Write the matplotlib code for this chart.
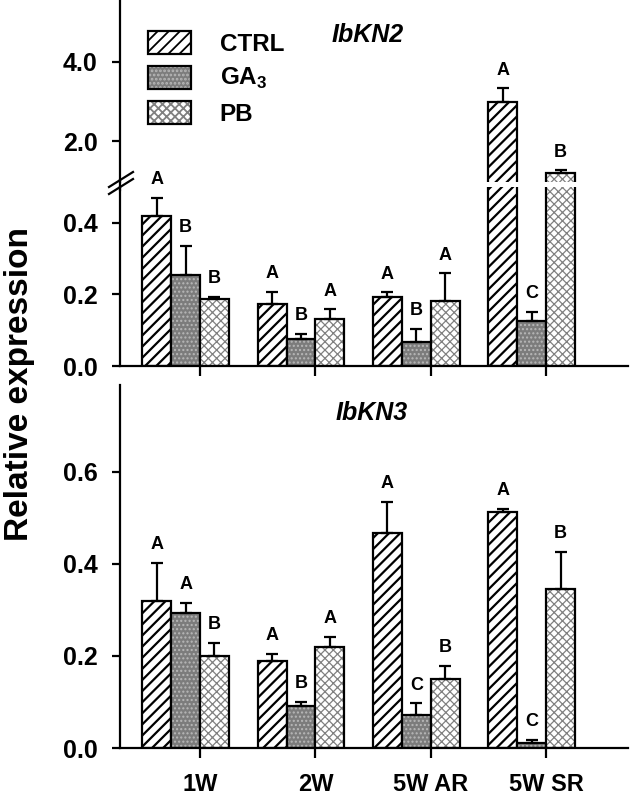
import matplotlib
matplotlib.use("Agg")
import matplotlib.pyplot as plt
import numpy as np
from matplotlib.lines import Line2D

plt.rcParams['font.family'] = 'Liberation Sans'
plt.rcParams['font.weight'] = 'bold'
plt.rcParams['mathtext.fontset'] = 'custom'
plt.rcParams['mathtext.rm'] = 'Liberation Sans:bold'
plt.rcParams['mathtext.bf'] = 'Liberation Sans:bold'
plt.rcParams['hatch.linewidth'] = 1.3
plt.rcParams['axes.linewidth'] = 1.6

stages = ["1W", "2W", "5W AR", "5W SR"]
treatments = ["CTRL", "GA$_3$", "PB"]

# IbKN2 (top panel)
kn2_ctrl = [0.42, 0.172, 0.192, 2.99]
kn2_ctrl_err = [0.05, 0.036, 0.014, 0.34]
kn2_ga3 = [0.254, 0.076, 0.067, 0.125]
kn2_ga3_err = [0.082, 0.013, 0.036, 0.026]
kn2_pb = [0.186, 0.13, 0.181, 1.19]
kn2_pb_err = [0.007, 0.028, 0.078, 0.07]
kn2_letters = [["A", "A", "A", "A"], ["B", "B", "B", "C"], ["B", "A", "A", "B"]]

# IbKN3 (bottom panel)
kn3_ctrl = [0.32, 0.19, 0.468, 0.512]
kn3_ctrl_err = [0.083, 0.014, 0.067, 0.007]
kn3_ga3 = [0.293, 0.092, 0.072, 0.01]
kn3_ga3_err = [0.023, 0.008, 0.025, 0.007]
kn3_pb = [0.2, 0.22, 0.15, 0.346]
kn3_pb_err = [0.028, 0.022, 0.029, 0.081]
kn3_letters = [["A", "A", "A", "A"], ["A", "B", "C", "C"], ["B", "A", "B", "B"]]

# looks of each treatment: face colour, hatch, hatch colour, hatch line width
styles = [("white", "///", "black", 1.6),
          ("#7c7c7c", "....", "#b8b8b8", 1.0),
          ("white", "xxxx", "#808080", 0.9)]
offsets = [-0.375, -0.125, 0.125]
width = 0.25


def draw_bars(ax, series, errors):
    """draws the three treatments as hatched bars with upward error bars"""
    x = np.arange(len(stages))
    handles = []
    for j in range(3):
        face, hatch, hcol, hlw = styles[j]
        pos = x + offsets[j]
        b1 = ax.bar(pos, series[j], width, color=face, edgecolor=hcol, hatch=hatch, linewidth=0)
        for p in b1:
            if hasattr(p, "set_hatch_linewidth"):
                p.set_hatch_linewidth(hlw)
        b2 = ax.bar(pos, series[j], width, fill=False, edgecolor="black", linewidth=1.6)
        ax.errorbar(pos, series[j], yerr=[np.zeros(len(pos)), errors[j]], fmt="none",
                    ecolor="black", elinewidth=1.6, capsize=4, capthick=1.6)
        handles.append((b1[0], b2[0]))
    return handles


def add_letters(axes_for, series, errors, letters):
    """puts the significance letters above each error bar"""
    for j in range(3):
        for i in range(len(stages)):
            top = series[j][i] + errors[j][i]
            ax = axes_for(top)
            ax.annotate(letters[j][i], (i + offsets[j], top), xytext=(0, 7),
                        textcoords="offset points", ha="center", va="bottom",
                        fontsize=13, fontweight="bold")


fig = plt.figure(figsize=(6.3, 7.99), dpi=100)
W, H = 630.0, 799.0
left = 120 / W
wid = 508 / W

ax_up = fig.add_axes([left, 1 - 182 / H, wid, 182 / H])
ax_lo = fig.add_axes([left, 1 - 366 / H, wid, 179 / H])
ax3 = fig.add_axes([left, 1 - 748 / H, wid, 363 / H])

kn2_series = [kn2_ctrl, kn2_ga3, kn2_pb]
kn2_errors = [kn2_ctrl_err, kn2_ga3_err, kn2_pb_err]
kn3_series = [kn3_ctrl, kn3_ga3, kn3_pb]
kn3_errors = [kn3_ctrl_err, kn3_ga3_err, kn3_pb_err]

handles = draw_bars(ax_up, kn2_series, kn2_errors)
draw_bars(ax_lo, kn2_series, kn2_errors)
draw_bars(ax3, kn3_series, kn3_errors)

add_letters(lambda t: ax_up if t > 0.5 else ax_lo, kn2_series, kn2_errors, kn2_letters)
add_letters(lambda t: ax3, kn3_series, kn3_errors, kn3_letters)

for ax in [ax_up, ax_lo, ax3]:
    ax.set_xlim(-0.694, 3.71)
    ax.spines["top"].set_visible(False)
    ax.spines["right"].set_visible(False)
    ax.tick_params(axis="y", direction="out", length=6, width=1.6, pad=10, labelsize=18)
    ax.tick_params(axis="x", direction="out", length=7, width=1.6, pad=11, labelsize=17)
    ax.patch.set_alpha(0)

ax_up.set_ylim(0.965, 5.56)
ax_up.set_yticks([2.0, 4.0])
ax_up.set_yticklabels(["2.0", "4.0"])
ax_up.spines["bottom"].set_visible(False)
ax_up.set_xticks([])

ax_lo.set_ylim(0, 0.5)
ax_lo.set_yticks([0.0, 0.2, 0.4])
ax_lo.set_yticklabels(["0.0", "0.2", "0.4"])
ax_lo.set_xticks(range(len(stages)))
ax_lo.set_xticklabels([])

ax3.set_ylim(0, 0.789)
ax3.set_yticks([0.0, 0.2, 0.4, 0.6])
ax3.set_yticklabels(["0.0", "0.2", "0.4", "0.6"])
ax3.set_xticks(range(len(stages)))
ax3.set_xticklabels(stages)

# axis break marks and the bit of spine between the two top axes
fig.add_artist(Line2D([120 / W, 120 / W], [1 - 180 / H, 1 - 190 / H], color="black", lw=1.6))
for y0 in [187, 194]:
    fig.add_artist(Line2D([109 / W, 133 / W], [1 - y0 / H, 1 - (y0 - 15) / H], color="black", lw=1.6))

fig.text(367.5 / W, 1 - 35 / H, "IbKN2", ha="center", va="center", fontsize=18,
         fontweight="bold", fontstyle="italic")
fig.text(372 / W, 1 - 413.5 / H, "IbKN3", ha="center", va="center", fontsize=18,
         fontweight="bold", fontstyle="italic")
fig.text(20 / W, 1 - 384 / H, "Relative expression", rotation=90, ha="center", va="center",
         fontsize=24, fontweight="bold")

fig.legend(handles, treatments, loc="upper left", bbox_to_anchor=(148 / W, 1 - 31 / H),
           frameon=False, fontsize=17.5, borderpad=0, borderaxespad=0,
           handlelength=1.75, handleheight=1.08, labelspacing=0.4, handletextpad=1.2)

fig.savefig("out.png", dpi=100)
